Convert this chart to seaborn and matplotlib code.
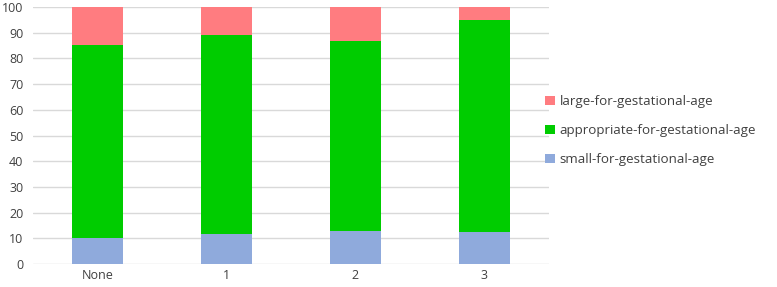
import matplotlib
matplotlib.use("Agg")
import matplotlib.pyplot as plt
import seaborn as sns
import pandas as pd

sns.set_theme(style="white")
plt.rcParams['font.family'] = ['Open Sans', 'DejaVu Sans']

groups = ['None', '1', '2', '3']
small = [10.0, 11.5, 12.7, 12.3]
appropriate = [75.2, 77.6, 74.1, 82.8]
large = [14.8, 10.9, 13.2, 4.9]

colors = {'small': '#8faadc', 'appropriate': '#00cc00', 'large': '#ff7c80'}
labels = {'small': 'small-for-gestational-age',
          'appropriate': 'appropriate-for-gestational-age',
          'large': 'large-for-gestational-age'}

df = pd.DataFrame({'group': groups, 'small': small,
                   'appropriate': appropriate, 'large': large})
df['app_bottom'] = df['small']
df['large_bottom'] = df['small'] + df['appropriate']

fig = plt.figure(figsize=(7.77, 2.87), dpi=100)
ax = fig.add_axes([0.0425, 0.080, 0.664, 0.8956])

bar_kw = dict(width=0.4, ax=ax, saturation=1, linewidth=0, edgecolor='none')
sns.barplot(data=df, x='group', y='small', color=colors['small'],
            label=labels['small'], **bar_kw)
sns.barplot(data=df, x='group', y='appropriate', bottom=df['app_bottom'],
            color=colors['appropriate'], label=labels['appropriate'], **bar_kw)
sns.barplot(data=df, x='group', y='large', bottom=df['large_bottom'],
            color=colors['large'], label=labels['large'], **bar_kw)

ax.set_ylim(0, 100)
ax.set_yticks(range(0, 101, 10))
ax.set_xlim(-0.5, 3.5)
ax.yaxis.grid(True, color='#d9d9d9', linewidth=1)
ax.set_axisbelow(True)
for s in ax.spines.values():
    s.set_visible(False)
ax.set_xlabel('')
ax.set_ylabel('')
ax.tick_params(axis='both', length=0, labelsize=9, labelcolor='#404040')
ax.tick_params(axis='y', pad=7)

handles, labs = ax.get_legend_handles_labels()
ax.legend(handles[::-1], labs[::-1], loc='center left',
          bbox_to_anchor=(0.975, 0.52), frameon=False, fontsize=9.6,
          handlelength=0.7, handleheight=0.7, handletextpad=0.35,
          labelspacing=1.2, labelcolor='#404040', borderaxespad=0.3)

fig.savefig('out.png', dpi=100)
